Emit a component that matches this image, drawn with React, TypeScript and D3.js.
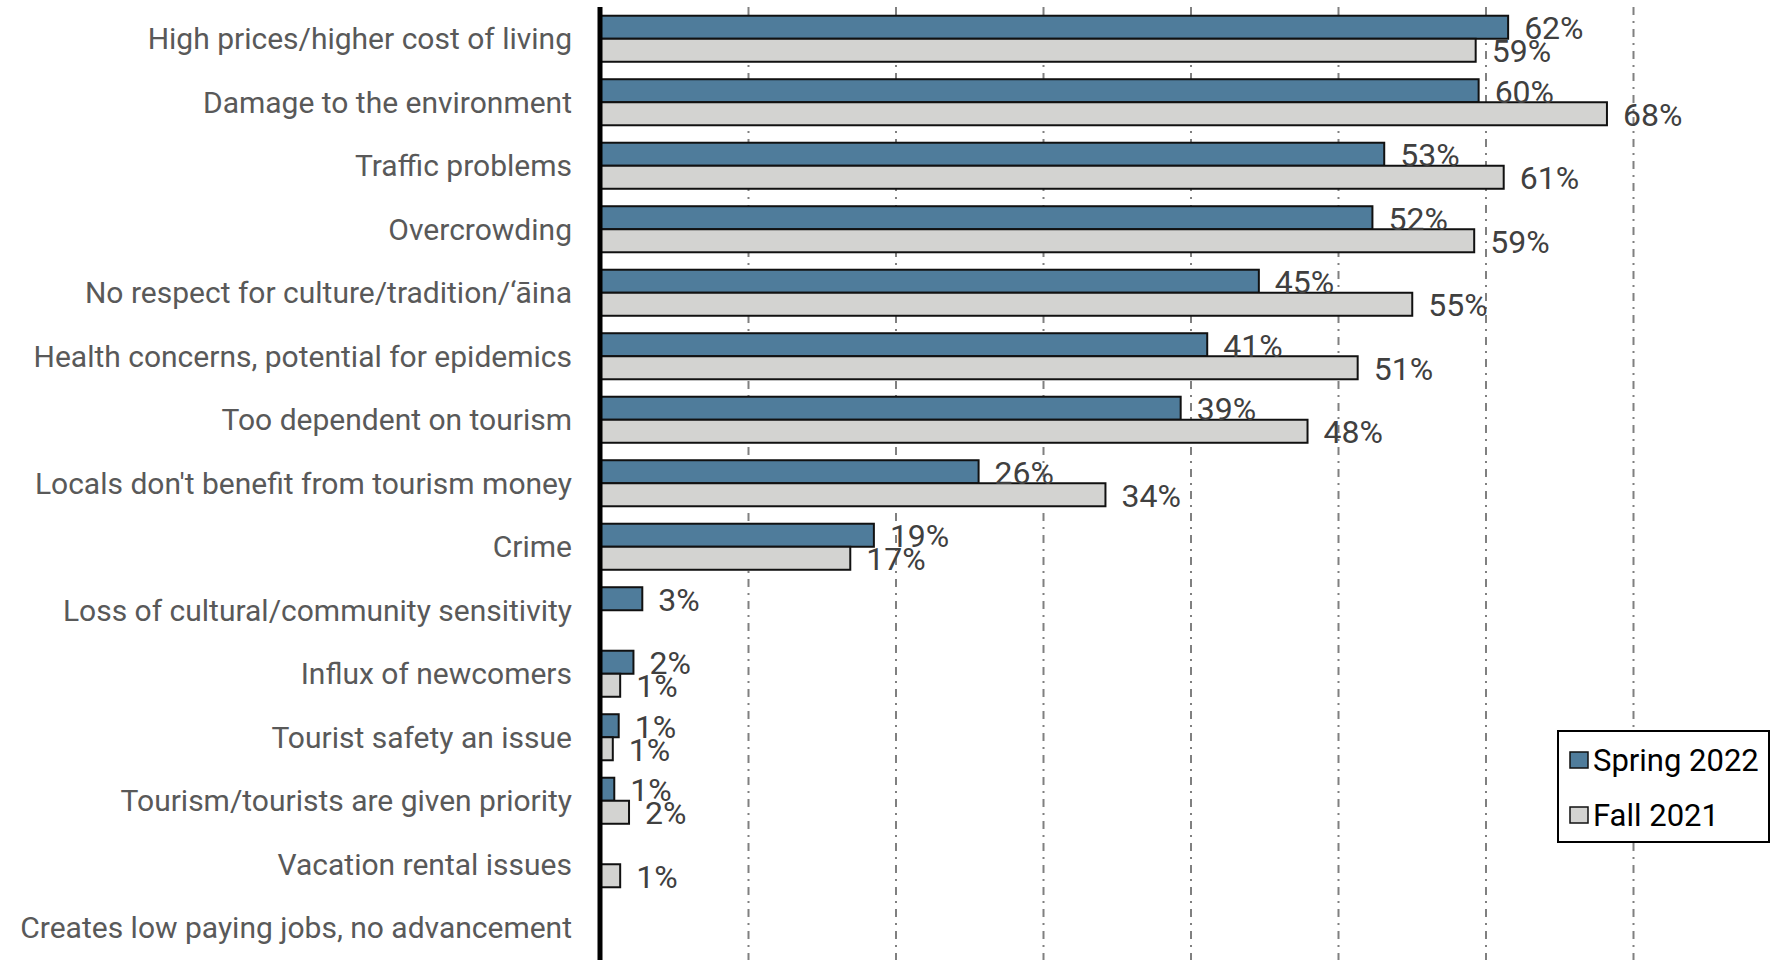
import React, { useEffect, useRef } from "react";
import * as d3 from "d3";

const categories: string[] = [
  "High prices/higher cost of living",
  "Damage to the environment",
  "Traffic problems",
  "Overcrowding",
  "No respect for culture/tradition/\u2018\u0101ina",
  "Health concerns, potential for epidemics",
  "Too dependent on tourism",
  "Locals don't benefit from tourism money",
  "Crime",
  "Loss of cultural/community sensitivity",
  "Influx of newcomers",
  "Tourist safety an issue",
  "Tourism/tourists are given priority",
  "Vacation rental issues",
  "Creates low paying jobs, no advancement",
];

// bar lengths (percent)
const spring2022: (number | null)[] = [61.5, 59.5, 53.1, 52.3, 44.6, 41.1, 39.3, 25.6, 18.5, 2.8, 2.2, 1.2, 0.9, null, null];
const fall2021: (number | null)[] = [59.3, 68.2, 61.2, 59.2, 55.0, 51.3, 47.9, 34.2, 16.9, null, 1.3, 0.8, 1.9, 1.3, null];
// printed labels
const springLabels: (number | null)[] = [62, 60, 53, 52, 45, 41, 39, 26, 19, 3, 2, 1, 1, null, null];
const fallLabels: (number | null)[] = [59, 68, 61, 59, 55, 51, 48, 34, 17, null, 1, 1, 2, 1, null];

const seriesNames = ["Spring 2022", "Fall 2021"];
const seriesColors = ["#4f7c9b", "#d3d3d1"];
const gridTicks = [10, 20, 30, 40, 50, 60, 70, 80];

const W = 1773;
const H = 960;

export default function App() {
  const ref = useRef<SVGSVGElement | null>(null);

  useEffect(() => {
    document.body.style.margin = "0";
    document.body.style.overflow = "hidden";
    const svg = d3.select(ref.current);
    svg.selectAll("*").remove();

    const x = d3.scaleLinear().domain([0, 10]).range([601, 748.5]);
    const y = d3
      .scaleBand<string>()
      .domain(categories)
      .range([7, 7 + 63.5 * categories.length])
      .paddingInner(0.275)
      .paddingOuter(0.1375);
    const sub = d3.scaleBand<number>().domain([0, 1]).range([0, y.bandwidth()]);

    const font = "Roboto, 'Liberation Sans', sans-serif";

    // gridlines
    svg
      .append("g")
      .selectAll("line")
      .data(gridTicks)
      .join("line")
      .attr("x1", (d) => x(d))
      .attr("x2", (d) => x(d))
      .attr("y1", 7)
      .attr("y2", H)
      .attr("stroke", "#808080")
      .attr("stroke-width", 2)
      .attr("stroke-dasharray", "8,6,2,6");

    const series = [spring2022, fall2021];
    const labels = [springLabels, fallLabels];

    series.forEach((vals, si) => {
      const g = svg.append("g");
      const rows = categories
        .map((c, i) => ({ c, v: vals[i], lab: labels[si][i] }))
        .filter((d) => d.v != null);
      g.selectAll("rect")
        .data(rows)
        .join("rect")
        .attr("x", x(0))
        .attr("y", (d) => (y(d.c) as number) + (sub(si) as number))
        .attr("width", (d) => x(d.v as number) - x(0))
        .attr("height", sub.bandwidth())
        .attr("fill", seriesColors[si])
        .attr("stroke", "#111")
        .attr("stroke-width", 2);
    });

    // data labels on top
    series.forEach((vals, si) => {
      const rows = categories
        .map((c, i) => ({ c, v: vals[i], lab: labels[si][i] }))
        .filter((d) => d.v != null);
      svg
        .append("g")
        .selectAll("text")
        .data(rows)
        .join("text")
        .attr("x", (d) => x(d.v as number) + 16)
        .attr("y", (d) => (y(d.c) as number) + (sub(si) as number) + sub.bandwidth() / 2 + 1)
        .attr("dominant-baseline", "central")
        .attr("font-family", font)
        .attr("font-size", 32)
        .attr("fill", "#404040")
        .text((d) => `${d.lab}%`);
    });

    // axis line
    svg
      .append("line")
      .attr("x1", x(0) - 1)
      .attr("x2", x(0) - 1)
      .attr("y1", 7)
      .attr("y2", H)
      .attr("stroke", "#000")
      .attr("stroke-width", 5);

    // category labels
    svg
      .append("g")
      .selectAll("text")
      .data(categories)
      .join("text")
      .attr("x", 572)
      .attr("y", (d) => (y(d) as number) + y.bandwidth() / 2)
      .attr("text-anchor", "end")
      .attr("dominant-baseline", "central")
      .attr("font-family", font)
      .attr("font-size", 30)
      .attr("fill", "#595959")
      .text((d) => d);

    // legend
    const lg = svg.append("g");
    lg.append("rect")
      .attr("x", 1558)
      .attr("y", 731)
      .attr("width", 211)
      .attr("height", 111)
      .attr("fill", "#fff")
      .attr("stroke", "#000")
      .attr("stroke-width", 2);
    seriesNames.forEach((name, i) => {
      const cy = 760 + i * 55;
      lg.append("rect")
        .attr("x", 1570)
        .attr("y", cy - 8)
        .attr("width", 18)
        .attr("height", 16)
        .attr("fill", seriesColors[i])
        .attr("stroke", "#111")
        .attr("stroke-width", 1.5);
      lg.append("text")
        .attr("x", 1593)
        .attr("y", cy)
        .attr("dominant-baseline", "central")
        .attr("font-family", font)
        .attr("font-size", 31)
        .attr("fill", "#000")
        .text(name);
    });
  }, []);

  return <svg ref={ref} width={W} height={H} style={{ display: "block" }} />;
}
